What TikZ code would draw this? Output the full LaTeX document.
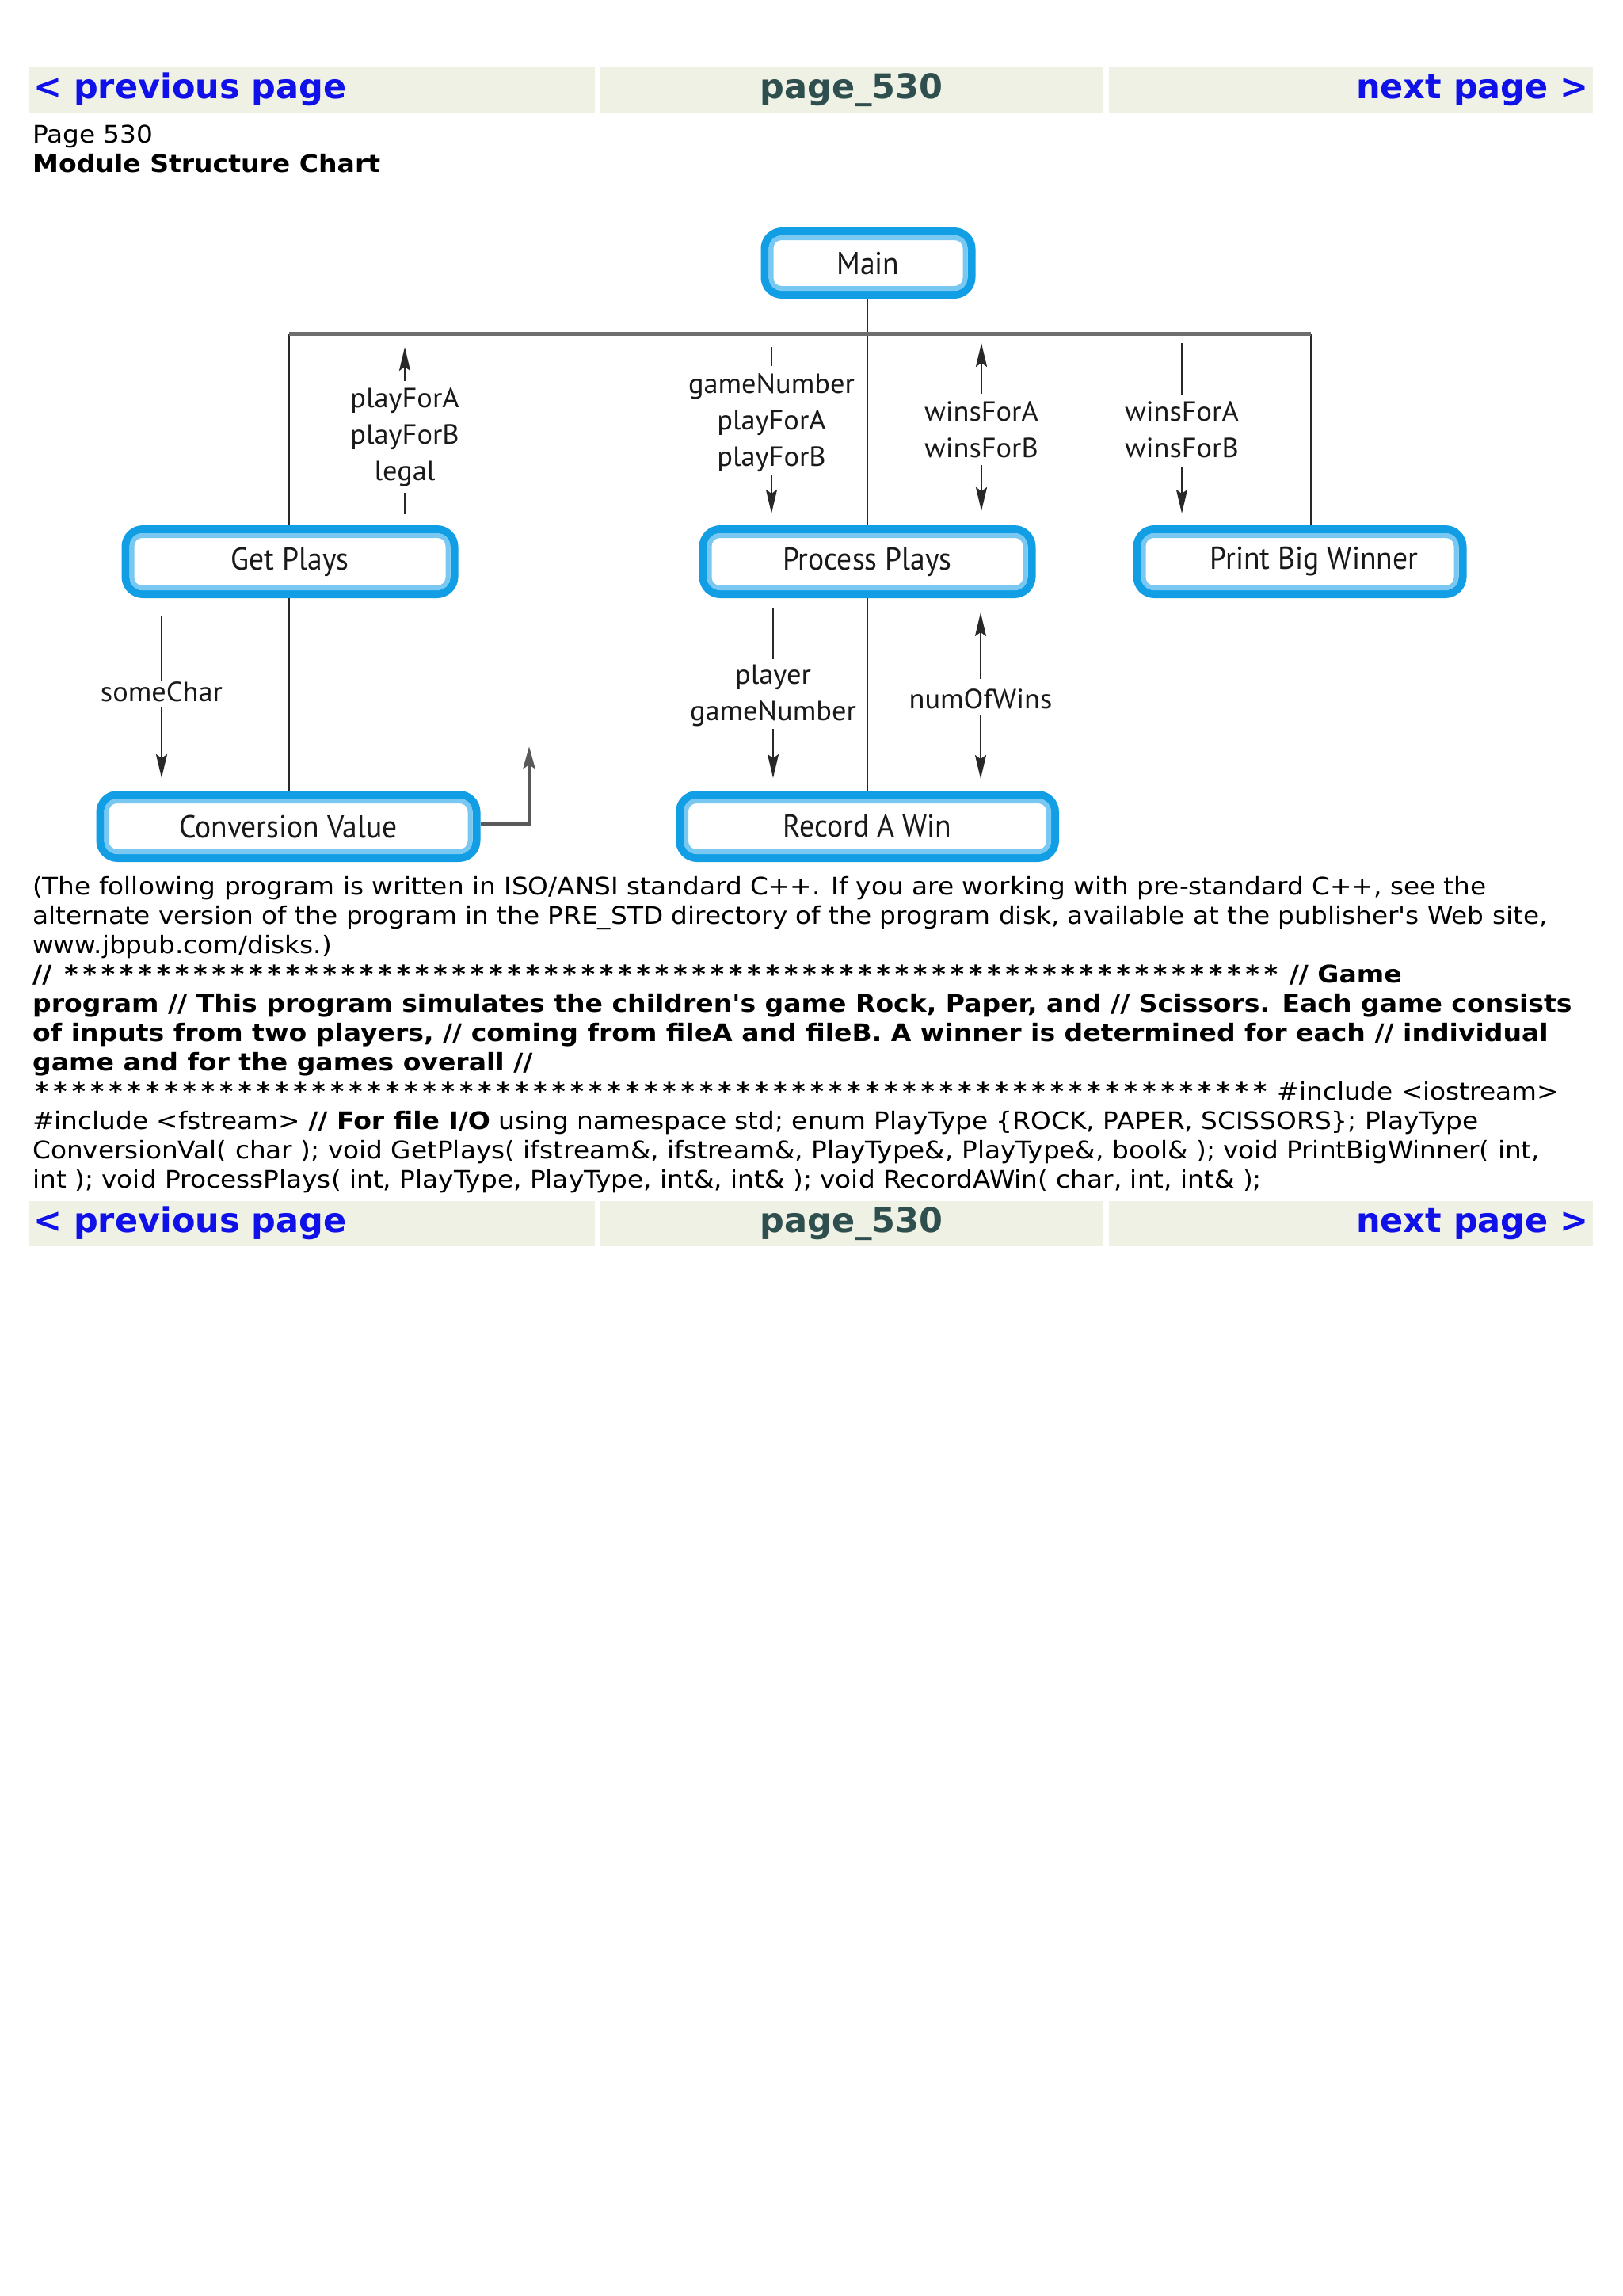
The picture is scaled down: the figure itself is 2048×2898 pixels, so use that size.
\documentclass[tikz,border=0pt]{standalone}
\usepackage{fontspec}
\setmainfont{DejaVu Sans}
\newfontfamily\barf{DejaVu Sans}
\newfontfamily\bodyf{DejaVu Sans}[FakeStretch=1.074]
\newfontfamily\bodyb{DejaVu Sans}[FakeStretch=1.084]
\newfontfamily\diagbox{PT Sans}[FakeStretch=0.94]
\newfontfamily\diaglbl{PT Sans}[FakeStretch=1.04]
\usetikzlibrary{arrows.meta}
\definecolor{barbg}{RGB}{239,241,229}
\definecolor{linkblue}{RGB}{16,16,232}
\definecolor{pagegray}{RGB}{47,79,79}
\definecolor{boxblue}{RGB}{18,158,228}
\definecolor{boxlight}{RGB}{120,200,242}
\definecolor{conn}{RGB}{40,40,40}
\definecolor{busgray}{RGB}{110,110,110}
\newcommand\asts[1]{\foreach \i in {1,...,#1}{\makebox[23.3pt]{*}}}
\newcommand\modbox[6]{%
  \node[modnode, minimum width=#4, minimum height=#5] (#1) at (#2,#3) {#6};
  \draw[boxlight, line width=6, rounded corners=13]
    ([shift={(13,13)}]#1.north west) rectangle ([shift={(-13,-13)}]#1.south east);
}
\tikzset{
  barcell/.style={fill=barbg, anchor=north west, inner sep=0, minimum height=57},
  bartext/.style={font=\barf\bfseries\fontsize{43}{50}\selectfont, inner sep=0},
  bodyt/.style={anchor=base west, inner sep=0, font=\bodyf\fontsize{30.5}{37}\selectfont},
  bodybt/.style={anchor=base west, inner sep=0, font=\bodyb\bfseries\fontsize{30.5}{37}\selectfont},
  modnode/.style={draw=boxblue, line width=10, rounded corners=22, inner sep=0,
    font=\diagbox\fontsize{40}{48}\selectfont, text=black!90},
  lbl/.style={font=\diaglbl\fontsize{35}{46}\selectfont, align=center, inner sep=0, text=black!90},
  connl/.style={draw=conn, line width=2.5},
  busl/.style={draw=busgray, line width=5},
  arr/.style={draw=conn, line width=2.5, -{Stealth[length=30pt,width=14pt,inset=5pt]}},
  retl/.style={draw=black!65, line width=5, -{Stealth[length=28pt,width=15pt,inset=5pt]}},
}
\begin{document}
\begin{tikzpicture}[x=1pt,y=-1pt]
\useasboundingbox[fill=white] (0,0) rectangle (2048,2898);
% navigation bars
\node[barcell, minimum width=714] (t1) at (37,85) {};
\node[barcell, minimum width=634] (t2) at (758,85) {};
\node[barcell, minimum width=611] (t3) at (1400,85) {};
\node[bartext, anchor=base west, text=linkblue] (tprev) at (42,125) {< previous page};
\node[bartext, anchor=base, text=pagegray] (tpage) at (1075,125) {page\_530};
\node[bartext, anchor=base east, text=linkblue] (tnext) at (2006,125) {next page >};
\node[barcell, minimum width=714] (b1) at (37,1516) {};
\node[barcell, minimum width=634] (b2) at (758,1516) {};
\node[barcell, minimum width=611] (b3) at (1400,1516) {};
\node[bartext, anchor=base west, text=linkblue] (bprev) at (42,1555) {< previous page};
\node[bartext, anchor=base, text=pagegray] (bpage) at (1075,1555) {page\_530};
\node[bartext, anchor=base east, text=linkblue] (bnext) at (2006,1555) {next page >};
% headings
\node[bodyt] (pg) at (41,181) {Page 530};
\node[bodybt] (title) at (41,218) {Module Structure Chart};
% modules
\modbox{main}{1096}{332}{261}{80}{Main}
\modbox{gp}{366}{709}{415}{82}{Get Plays}
\modbox{pp}{1095}{709}{415}{82}{Process Plays}
\modbox{pbw}{1641}{709}{411}{82}{\hspace*{36pt}Print Big Winner}
\modbox{cv}{364}{1043}{475}{80}{Conversion Value}
\modbox{raw}{1095}{1043}{474}{80}{Record A Win}
% structure lines
\coordinate (busL) at (365,421);
\coordinate (busR) at (1655,421);
\draw[connl] (pp.north |- main.south) -- (pp.north);
\draw[connl] (busL) -- (busL |- gp.north);
\draw[connl] (busR) -- (busR |- pbw.north);
\draw[busl] (busL) -- (busR);
\draw[connl] (busL |- gp.south) -- (busL |- cv.north);
\draw[connl] (pp.south) -- (pp.south |- raw.north);
% return flow of Conversion Value
\coordinate (rtip) at (668,942);
\draw[retl] ([yshift=3]cv.east) -| (rtip);
% data-flow labels
\node[lbl] (l1) at (511,552) {playForA\\playForB\\legal};
\coordinate (l1a) at (511,481); \coordinate (l1b) at (511,438);
\coordinate (l1c) at (511,622); \coordinate (l1d) at (511,649);
\draw[arr] (l1a) -- (l1b);
\draw[connl] (l1c) -- (l1d);
\node[lbl] (l2) at (974,534) {gameNumber\\playForA\\playForB};
\coordinate (l2a) at (974,438); \coordinate (l2b) at (974,462);
\coordinate (l2c) at (974,600); \coordinate (l2d) at (974,648);
\draw[connl] (l2a) -- (l2b);
\draw[arr] (l2c) -- (l2d);
\node[lbl] (l3) at (1239,542) {winsForA\\winsForB};
\coordinate (l3a) at (1239,497); \coordinate (l3b) at (1239,433);
\coordinate (l3c) at (1239,587); \coordinate (l3d) at (1239,645);
\draw[arr] (l3a) -- (l3b);
\draw[arr] (l3c) -- (l3d);
\node[lbl] (l4) at (1492,542) {winsForA\\winsForB};
\coordinate (l4a) at (1492,433); \coordinate (l4b) at (1492,498);
\coordinate (l4c) at (1492,590); \coordinate (l4d) at (1492,648);
\draw[connl] (l4a) -- (l4b);
\draw[arr] (l4c) -- (l4d);
\node[lbl] (l5) at (204,873) {someChar};
\coordinate (l5a) at (204,778); \coordinate (l5b) at (204,860);
\coordinate (l5c) at (204,893); \coordinate (l5d) at (204,982);
\draw[connl] (l5a) -- (l5b);
\draw[arr] (l5c) -- (l5d);
\node[lbl] (l6) at (976,878) {player\\gameNumber};
\coordinate (l6a) at (976,768); \coordinate (l6b) at (976,832);
\coordinate (l6c) at (976,920); \coordinate (l6d) at (976,982);
\draw[connl] (l6a) -- (l6b);
\draw[arr] (l6c) -- (l6d);
\node[lbl] (l7) at (1238,882) {numOfWins};
\coordinate (l7a) at (1238,857); \coordinate (l7b) at (1238,773);
\coordinate (l7c) at (1238,903); \coordinate (l7d) at (1238,983);
\draw[arr] (l7a) -- (l7b);
\draw[arr] (l7c) -- (l7d);
% program text
\node[bodyt] (p1) at (41,1129) {(The following program is written in ISO/ANSI standard C++. If you are working with pre-standard C++, see the};
\node[bodyt] (p2) at (41,1166) {alternate version of the program in the PRE\_STD directory of the program disk, available at the publisher's Web site,};
\node[bodyt] (p3) at (41,1203) {www.jbpub.com/disks.)};
\node[bodybt] (p4) at (41,1240) {//\hspace*{13pt}\asts{66} // Game};
\node[bodybt] (p5) at (41,1277) {program // This program simulates the children's game Rock, Paper, and // Scissors. Each game consists};
\node[bodybt] (p6) at (41,1314) {of inputs from two players, // coming from fileA and fileB. A winner is determined for each // individual};
\node[bodybt] (p7) at (41,1351) {game and for the games overall //};
\node[bodyt] (p8) at (41,1388) {{\bodyb\bfseries\asts{67}} \#include <iostream>};
\node[bodyt] (p9) at (41,1425) {\#include <fstream> {\bodyb\bfseries // For file I/O} using namespace std; enum PlayType \{ROCK, PAPER, SCISSORS\}; PlayType};
\node[bodyt] (p10) at (41,1462) {ConversionVal( char ); void GetPlays( ifstream\&, ifstream\&, PlayType\&, PlayType\&, bool\& ); void PrintBigWinner( int,};
\node[bodyt] (p11) at (41,1499) {int ); void ProcessPlays( int, PlayType, PlayType, int\&, int\& ); void RecordAWin( char, int, int\& );};
\end{tikzpicture}
\end{document}
